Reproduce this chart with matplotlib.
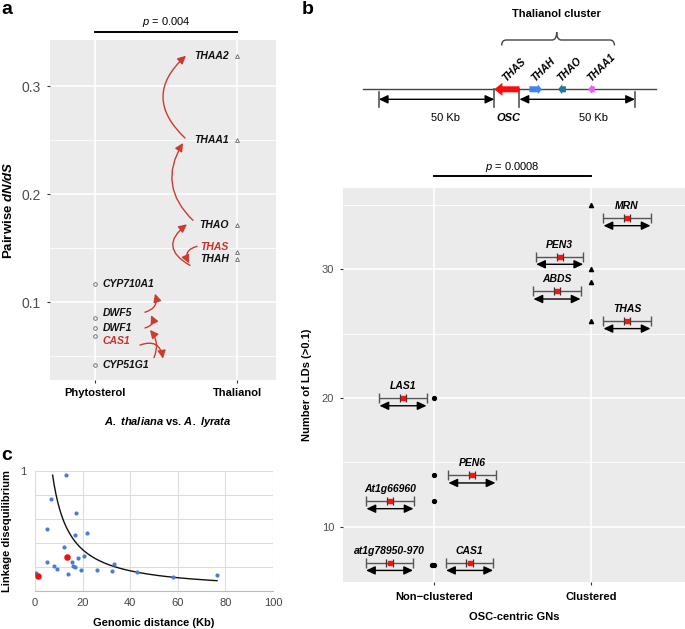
import numpy as np
import matplotlib
matplotlib.use('Agg')
import matplotlib.pyplot as plt
from matplotlib.patches import Polygon, PathPatch
from matplotlib.path import Path

plt.rcParams['font.family'] = ['Liberation Sans', 'DejaVu Sans']
plt.rcParams['mathtext.fontset'] = 'custom'
plt.rcParams['mathtext.rm'] = 'Liberation Sans'
plt.rcParams['mathtext.it'] = 'Liberation Sans:italic'
plt.rcParams['mathtext.bf'] = 'Liberation Sans:bold'
plt.rcParams['mathtext.bfit'] = 'Liberation Sans:bold:italic'

# ---------------- data: panel a ----------------
a_categories = ['Phytosterol', 'Thalianol']
a_phyto_genes = ['CYP710A1', 'DWF5', 'DWF1', 'CAS1', 'CYP51G1']
a_phyto_dnds = [0.117, 0.085, 0.076, 0.0685, 0.042]
a_thal_genes = ['THAA2', 'THAA1', 'THAO', 'THAS', 'THAH']
a_thal_dnds = [0.328, 0.250, 0.171, 0.146, 0.1395]
a_red_genes = ['THAS', 'CAS1']
a_yticks = [0.1, 0.2, 0.3]
a_pvalue = '0.004'

# ---------------- data: panel b (diagram) ----------------
diag_genes = ['THAS', 'THAH', 'THAO', 'THAA1']
diag_start_kb = [0.0, 15.2, 27.6, 40.6]
diag_end_kb = [10.9, 20.6, 31.0, 43.5]
diag_strand = [-1, 1, -1, -1]
diag_colors = ['#FF0A0A', '#3F84F6', '#1E7898', '#F25CF2']
flank_kb = 50

# ---------------- data: panel b (LD counts) ----------------
b_categories = ['Non\u2212clustered', 'Clustered']
b_nonclustered_ld = [20, 14, 12, 7, 7]
b_clustered_ld = [35, 30, 29, 26]
b_yticks = [10, 20, 30]
b_ann_genes = ['MRN', 'PEN3', 'ABDS', 'THAS', 'LAS1', 'PEN6', 'At1g66960', 'at1g78950-970', 'CAS1']
b_ann_cat = [2, 2, 2, 2, 1, 1, 1, 1, 1]
b_ann_value = [34.0, 31.0, 28.3, 26.0, 20.0, 14.0, 12.0, 7.2, 7.2]
b_pvalue = '0.0008'

# ---------------- data: panel c ----------------
c_dist_blue = [0.42, 4.9, 4.9, 6.85, 8.1, 9.1, 12.0, 13.0, 14.0, 15.5, 15.9, 16.6, 16.6, 17.2,
               17.9, 19.2, 20.4, 21.8, 26.0, 32.2, 33.1, 42.8, 57.9, 76.5]
c_ld_blue = [0.147, 0.515, 0.241, 0.762, 0.208, 0.183, 0.368, 0.967, 0.144, 0.241, 0.208, 0.197,
             0.465, 0.651, 0.271, 0.177, 0.291, 0.479, 0.177, 0.169, 0.222, 0.158, 0.114, 0.130]
c_dist_red = [1.4, 13.6]
c_ld_red = [0.125, 0.285]
c_fit_a, c_fit_b = 7.64, -1.035
c_fit_x = (7.4, 76.5)

# ---------------- layout helpers ----------------
W, H = 685, 629
fig = plt.figure(figsize=(W / 100, H / 100), dpi=100)


def rect(l, t, r, b):
    return [l / W, 1 - b / H, (r - l) / W, (b - t) / H]


GRAY_BG = '#EBEBEB'
TICK_COL = '#4D4D4D'
RED_TXT = '#C8302C'
DBL_ARROW = '<|-|>,head_length=0.6,head_width=0.28'


def gg_axes(ax):
    ax.set_facecolor(GRAY_BG)
    for s in ax.spines.values():
        s.set_visible(False)
    ax.set_axisbelow(True)
    ax.grid(which='major', color='white', lw=1.2)
    ax.grid(which='minor', color='white', lw=0.6)
    ax.tick_params(which='major', length=2.5, width=0.8, color='#333333', labelcolor=TICK_COL)
    ax.tick_params(which='minor', length=0)


# ================= panel a =================
axa = fig.add_axes(rect(50, 40, 276, 380))
gg_axes(axa)
axa.set_xlim(0.683, 2.275)
axa.set_ylim(0.0278, 0.3426)
axa.set_xticks([1, 2])
axa.set_xticklabels(a_categories, fontsize=8, fontweight='bold', color='black')
axa.set_yticks(a_yticks)
axa.set_yticklabels([f'{v:.1f}' for v in a_yticks], fontsize=10)
axa.set_yticks([0.05, 0.15, 0.25], minor=True)
axa.tick_params(axis='x', pad=3.5)
axa.tick_params(axis='y', pad=4)
axa.grid(which='minor', axis='x', visible=False)

axa.plot([1] * len(a_phyto_dnds), a_phyto_dnds, 'o', ms=2.6, mfc='none', mec='#666666', mew=0.6)
axa.plot([2] * len(a_thal_dnds), a_thal_dnds, '^', ms=2.8, mfc='none', mec='#666666', mew=0.6)

nudge = {'THAS': 0.0046, 'DWF5': 0.0046, 'CAS1': -0.0046}
for g, v in zip(a_phyto_genes, a_phyto_dnds):
    axa.text(1.056, v + nudge.get(g, 0), g, ha='left', va='center', fontsize=7.5,
             fontweight='bold', fontstyle='italic', color=RED_TXT if g in a_red_genes else '#111111')
for g, v in zip(a_thal_genes, a_thal_dnds):
    axa.text(1.944, v + nudge.get(g, 0), g, ha='right', va='center', fontsize=7.5,
             fontweight='bold', fontstyle='italic', color=RED_TXT if g in a_red_genes else '#111111')

aval = dict(zip(a_phyto_genes + a_thal_genes, a_phyto_dnds + a_thal_dnds))


def a_xy(px, gene, dpy):
    return (1 + (px - 95) / 142, aval[gene] - dpy / 1080)


a_arrows = [
    ('THAA1', 'THAA2', 185, -2, 186, 0, -0.54),
    ('THAO', 'THAA1', 193, -5, 183, 3, -0.40),
    ('THAH', 'THAO', 190, 6, 187, -1, -0.75),
    ('THAS', 'THAH', 197, -6, 189, 4, 0.6),
    ('CAS1', 'CYP51G1', 140, 9, 163, -6, -0.6),
    ('CYP51G1', 'DWF1', 154, -7, 150, 2, 0.3),
    ('DWF1', 'DWF5', 145, 0, 151, -3, 0.6),
    ('DWF5', 'CYP710A1', 145, -6, 155, 10, 0.5),
]
for src, dst, x0, d0, x1, d1, rad in a_arrows:
    axa.annotate('', xy=a_xy(x1, dst, d1), xytext=a_xy(x0, src, d0),
                 arrowprops=dict(arrowstyle='-|>,head_length=0.6,head_width=0.3', mutation_scale=8,
                                 color='#CC3A30', lw=1.0, shrinkA=0, shrinkB=0,
                                 connectionstyle=f'arc3,rad={rad}'))

axa.plot([1, 2], [0.350, 0.350], color='black', lw=1.4, clip_on=False)
axa.text(1.5, 0.3593, r'$\mathit{p}$ = ' + a_pvalue, ha='center', va='center', fontsize=8)
fig.text(9 / W, 1 - 210 / H, r'Pairwise $\mathbfit{dN/dS}$', rotation=90, ha='center', va='center',
         fontsize=9.5, fontweight='bold')
fig.text(168 / W, 1 - 422 / H, r'$\mathbfit{A.\ thaliana}$ vs. $\mathbfit{A.\ lyrata}$',
         ha='center', va='center', fontsize=8, fontweight='bold')
fig.text(1 / W, 1 - 9 / H, 'a', ha='left', va='center', fontsize=14, fontweight='bold')

# ================= panel b: diagram =================
PX_PER_KB = 2.31
X_OSC = 494.3
axd = fig.add_axes(rect(280, 0, 685, 140))
axd.set_xlim((280 - X_OSC) / PX_PER_KB, (685 - X_OSC) / PX_PER_KB)
axd.set_ylim(140, 0)
axd.axis('off')

yl = 89.3
axd.plot([(363 - X_OSC) / PX_PER_KB, (656 - X_OSC) / PX_PER_KB], [yl, yl], color='#444444', lw=1.0)

osc_end = diag_end_kb[0]
left_bar = diag_start_kb[0] - flank_kb
right_bar = osc_end + flank_kb
for xb, top in [(left_bar, 92), (diag_start_kb[0], yl), (osc_end, yl), (right_bar, 92)]:
    axd.plot([xb, xb], [top, 107], color='#555555', lw=1.2)
for xa, xb in [(left_bar, diag_start_kb[0]), (osc_end, right_bar)]:
    axd.annotate('', xy=(xb, 99.3), xytext=(xa, 99.3),
                 arrowprops=dict(arrowstyle=DBL_ARROW, mutation_scale=9,
                                 color='black', lw=1.0, shrinkA=0, shrinkB=0))

for i, (g, s, e, st, c) in enumerate(zip(diag_genes, diag_start_kb, diag_end_kb, diag_strand, diag_colors)):
    body_h = 6.0
    head_h = 13.0 if i == 0 else 10.0
    head_len = 3.5 if i == 0 else 1.8
    tail, tip = (s, e) if st > 0 else (e, s)
    neck = tip - st * head_len
    verts = [(tail, yl - body_h / 2), (neck, yl - body_h / 2), (neck, yl - head_h / 2), (tip, yl),
             (neck, yl + head_h / 2), (neck, yl + body_h / 2), (tail, yl + body_h / 2)]
    axd.add_patch(Polygon(verts, closed=True, fc=c, ec='none', zorder=3))
    cx = (s + e) / 2
    axd.text(cx - 0.2, 81.5, g, rotation=45, rotation_mode='anchor', ha='left', va='baseline',
             fontsize=7.5, fontweight='bold', fontstyle='italic')

axd.text((diag_start_kb[0] + osc_end) / 2 + 0.6, 118.3, 'OSC', ha='center', va='center', fontsize=8,
         fontweight='bold', fontstyle='italic')
axd.text(-21, 118.3, f'{flank_kb} Kb', ha='center', va='center', fontsize=8)
axd.text(43, 118.3, f'{flank_kb} Kb', ha='center', va='center', fontsize=8)

# brace over cluster
bx0, bx1, bxc, r = 3.2, 52.0, 27.0, 2.0
ylow, ymid, ytop = 45.5, 40.0, 32.0
bverts = [(bx0, ylow), (bx0, ymid), (bx0 + r, ymid), (bxc - r, ymid), (bxc, ymid), (bxc, ytop),
          (bxc, ymid), (bxc + r, ymid), (bx1 - r, ymid), (bx1, ymid), (bx1, ylow)]
bcodes = [Path.MOVETO, Path.CURVE3, Path.CURVE3, Path.LINETO, Path.CURVE3, Path.CURVE3,
          Path.CURVE3, Path.CURVE3, Path.LINETO, Path.CURVE3, Path.CURVE3]
axd.add_patch(PathPatch(Path(bverts, bcodes), fc='none', ec='#444444', lw=1.0))
axd.text(bxc, 14, 'Thalianol cluster', ha='center', va='center', fontsize=8, fontweight='bold')
fig.text(308 / W, 1 - 9 / H, 'b', ha='center', va='center', fontsize=14, fontweight='bold')

# ================= panel b: LD counts =================
axb = fig.add_axes(rect(343, 188, 685, 582))
gg_axes(axb)
axb.set_xlim(0.417, 2.6)
axb.set_ylim(5.7, 36.33)
axb.set_xticks([1, 2])
axb.set_xticklabels(b_categories, fontsize=8, fontweight='bold', color='black')
axb.set_yticks(b_yticks)
axb.set_yticklabels([str(v) for v in b_yticks], fontsize=8)
axb.set_yticks([15, 25, 35], minor=True)
axb.tick_params(axis='x', pad=4.5)
axb.tick_params(axis='y', pad=4)

nc_jitter = [0, 0, 0, -0.016, 0]
axb.plot(np.array([1.0] * len(b_nonclustered_ld)) + np.array(nc_jitter), b_nonclustered_ld, 'o',
         ms=2.8, color='black')
axb.plot([2] * len(b_clustered_ld), b_clustered_ld, '^', ms=3.0, color='black')

b_shift = [0.23, -0.20, -0.217, 0.23, -0.20, 0.24, -0.283, -0.286, 0.225]
for g, cat, v, sh in zip(b_ann_genes, b_ann_cat, b_ann_value, b_shift):
    xc = cat + sh
    axb.errorbar([xc], [v], xerr=0.152, fmt='none', ecolor='#555555', elinewidth=1.0, capsize=3.5,
                 capthick=1.0)
    axb.errorbar([xc], [v], xerr=0.02, fmt='none', ecolor='#333333', elinewidth=0.0, capsize=3,
                 capthick=0.9)
    axb.plot([xc], [v], marker='s', ms=3.4, color='#FF1010', mec='#FF1010', zorder=4)
    axb.annotate('', xy=(xc + 0.15, v - 0.6), xytext=(xc - 0.15, v - 0.6),
                 arrowprops=dict(arrowstyle=DBL_ARROW, mutation_scale=9,
                                 color='black', lw=1.0, shrinkA=0, shrinkB=0))
    axb.text(xc, v + 0.92, g, ha='center', va='center', fontsize=7.5, fontweight='bold',
             fontstyle='italic')

axb.plot([1, 2], [37.28, 37.28], color='black', lw=1.4, clip_on=False)
axb.text(1.5, 37.95, r'$\mathit{p}$ = ' + b_pvalue, ha='center', va='center', fontsize=8)
fig.text(307 / W, 1 - 385 / H, 'Number of LDs (>0.1)', rotation=90, ha='center', va='center',
         fontsize=8, fontweight='bold')
fig.text(514 / W, 1 - 617 / H, 'OSC-centric GNs', ha='center', va='center', fontsize=8,
         fontweight='bold')

# ================= panel c =================
axc = fig.add_axes(rect(35, 470.7, 273, 591))
axc.set_facecolor('white')
for s in axc.spines.values():
    s.set_visible(False)
axc.set_xlim(0, 100)
axc.set_ylim(0, 1)
axc.set_xticks(np.arange(0, 101, 20))
axc.set_yticks(np.arange(0, 1.01, 0.2))
axc.set_yticklabels(['', '', '', '', '', '1'])
axc.grid(True, color='#DDDDDD', lw=0.8)
axc.set_axisbelow(True)
axc.tick_params(length=0, labelsize=8, labelcolor='#444444', pad=5)
axc.tick_params(axis='y', pad=6)
for s in ['bottom', 'left']:
    axc.spines[s].set_visible(True)
    axc.spines[s].set_color('#DDDDDD')
    axc.spines[s].set_linewidth(0.8)
axc.spines['bottom'].set_color('#BBBBBB')

xf = np.linspace(c_fit_x[0], c_fit_x[1], 200)
axc.plot(xf, c_fit_a * xf ** c_fit_b, color='#111111', lw=1.0, zorder=2)
axc.scatter(c_dist_blue, c_ld_blue, s=9, color='#4A7DD6', zorder=3, linewidths=0)
axc.scatter(c_dist_red, c_ld_red, s=22, color='#EE1111', zorder=4, linewidths=0, clip_on=False)
fig.text(154 / W, 1 - 623 / H, 'Genomic distance (Kb)', ha='center', va='center', fontsize=8,
         fontweight='bold')
fig.text(7 / W, 1 - 531 / H, 'Linkage disequilibrium', rotation=90, ha='center', va='center',
         fontsize=8, fontweight='bold')
fig.text(1 / W, 1 - 455 / H, 'c', ha='left', va='center', fontsize=14, fontweight='bold')

fig.savefig('out.png', dpi=100)
